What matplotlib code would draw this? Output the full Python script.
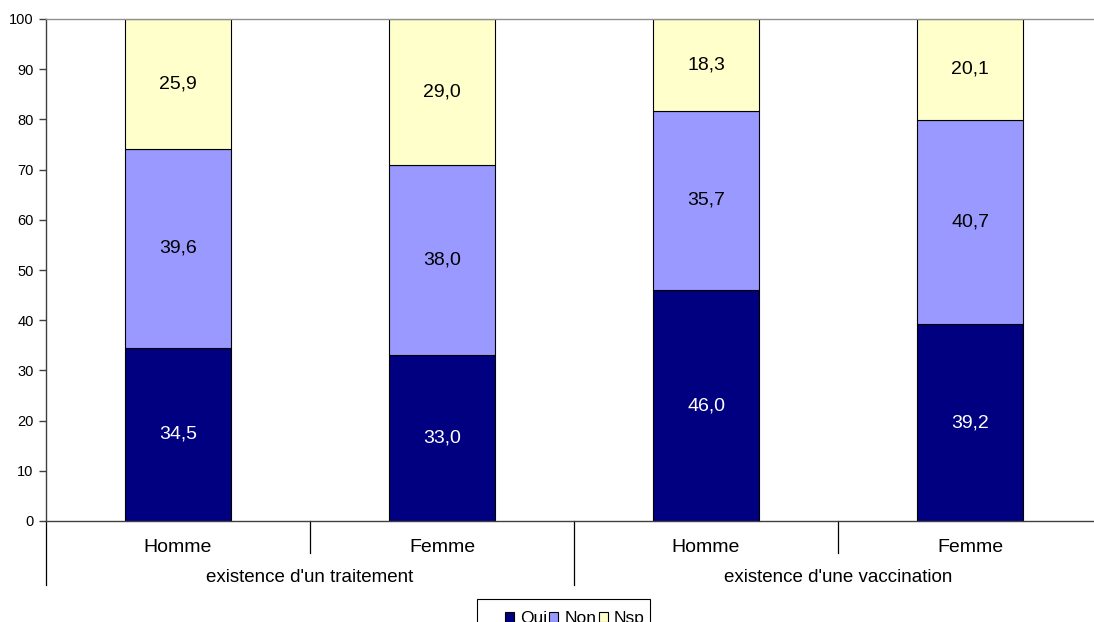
import matplotlib
matplotlib.use("Agg")
import matplotlib.pyplot as plt
import matplotlib.transforms as mtransforms
from matplotlib.patches import Rectangle
import numpy as np

plt.rcParams['font.family'] = ['Liberation Sans', 'DejaVu Sans']

sub_labels = ["Homme", "Femme", "Homme", "Femme"]
group_labels = ["existence d'un traitement", "existence d'une vaccination"]
series_names = ["Oui", "Non", "Nsp"]
oui = [34.5, 33.0, 46.0, 39.2]
non = [39.6, 38.0, 35.7, 40.7]
nsp = [25.9, 29.0, 18.3, 20.1]
colors = ["#000080", "#9999FF", "#FFFFCC"]
text_colors = ["white", "black", "black"]

W, H = 1094, 622
fig = plt.figure(figsize=(W / 100, H / 100), dpi=100)
ax_left, ax_right = 46, 46 + 4 * 264
ax_top, ax_bot = 19, 521
ax = fig.add_axes([ax_left / W, (H - ax_bot) / H, (ax_right - ax_left) / W, (ax_bot - ax_top) / H])

x = np.arange(len(sub_labels))
bottom = np.zeros(len(x))
handles = []
for vals, name, col, tc in zip([oui, non, nsp], series_names, colors, text_colors):
    vals = np.array(vals)
    b = ax.bar(x, vals, width=0.4, bottom=bottom, color=col, edgecolor="black", linewidth=0.8, label=name)
    handles.append(b)
    for xi, v, bt in zip(x, vals, bottom):
        ax.text(xi, bt + v / 2, f"{v:.1f}".replace(".", ","), ha="center", va="center",
                color=tc, fontsize=14)
    bottom += vals

ax.set_xlim(-0.5, 3.5)
ax.set_ylim(0, 100)
ax.set_yticks(np.arange(0, 101, 10))
ax.tick_params(axis="y", labelsize=10.5, length=5, width=1, color="#404040", pad=4)
ax.set_xticks([])
ax.spines["right"].set_visible(False)
ax.spines["top"].set_color("#909090")
ax.spines["top"].set_linewidth(1)
ax.spines["left"].set_color("#404040")
ax.spines["bottom"].set_color("#404040")
ax.spines["left"].set_linewidth(1)
ax.spines["bottom"].set_linewidth(1)

trans = mtransforms.blended_transform_factory(ax.transData, ax.transAxes)
ph = ax_bot - ax_top
short = 32 / ph
long_ = 64 / ph
for xs, ln in [(-0.5, long_), (0.5, short), (1.5, long_), (2.5, short)]:
    ax.plot([xs, xs], [0, -ln], transform=trans, color="black", linewidth=0.9, clip_on=False)

for xi, lab in zip(x, sub_labels):
    ax.text(xi, -27 / ph, lab, transform=trans, ha="center", va="center", fontsize=14)
for gi, lab in enumerate(group_labels):
    ax.text(gi * 2 + 0.5, -57 / ph, lab, transform=trans, ha="center", va="center", fontsize=13.5)

# legend box (Excel style, wide left padding)
fig.patches.append(Rectangle((477 / W, -10 / H), (650 - 477) / W, (H - 599 + 10) / H,
                             transform=fig.transFigure, facecolor="white",
                             edgecolor="black", linewidth=0.8, zorder=1))
leg = fig.legend(handles=handles, labels=series_names, loc="upper left", ncol=3,
                 bbox_to_anchor=(505 / W, (H - 611) / H), frameon=False,
                 fontsize=12.5, handlelength=0.5, handleheight=0.5,
                 handletextpad=0.35, columnspacing=0.15, borderpad=0, borderaxespad=0)
leg.set_zorder(2)

fig.savefig("out.png", dpi=100)
